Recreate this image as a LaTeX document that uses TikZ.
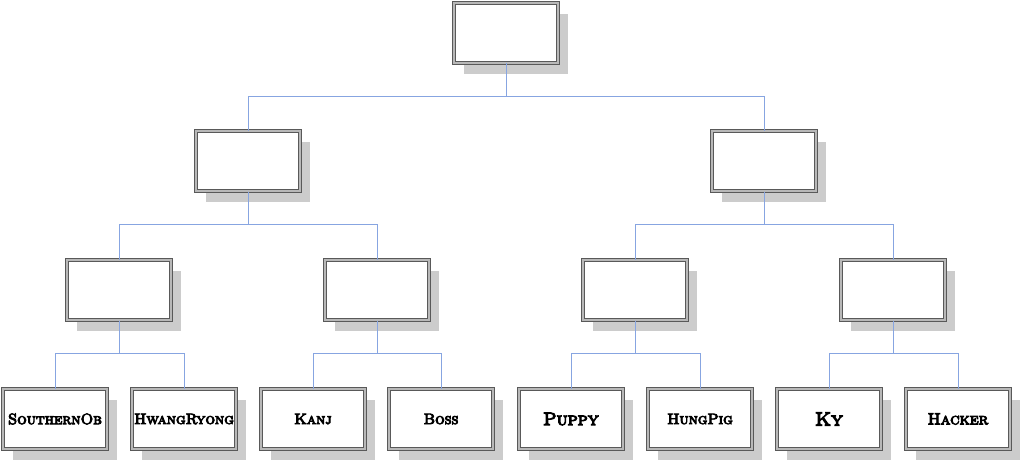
\documentclass[tikz,border=0pt]{standalone}
\usepackage{fontspec}
\usepackage{tikz}
\usetikzlibrary{positioning,calc,shadows}
\newfontfamily\brushfont[FakeBold=6]{lmromancaps10-regular.otf}
\definecolor{linkblue}{RGB}{135,165,225}

\begin{document}
\begin{tikzpicture}[
    x=1pt, y=-1pt,
    box/.style={rectangle, draw=black!65, double=black!28, double distance=1.2pt,
        line width=1pt, fill=white, minimum width=104pt, minimum height=60pt,
        inner sep=0pt, font=\brushfont\fontsize{15}{15}\selectfont,
        drop shadow={shadow xshift=10pt, shadow yshift=-11pt, fill=black!20, opacity=1}},
    link/.style={draw=linkblue, line width=1pt}
]
\useasboundingbox (0,0) rectangle (1023,460);

% levels
\node[box] (root) at (506,33) {};
\node[box] (west) at (248,161) {};
\node[box] (east) at (764,161) {};
\node[box] (w1) at (119,290) {};
\node[box] (w2) at (377,290) {};
\node[box] (e1) at (635,290) {};
\node[box] (e2) at (893,290) {};

% leaves
\node[box] (southern) at (55,419) {SouthernOb};
\node[box] (hwang) at (184,419) {HwangRyong};
\node[box] (kanj) at (313,419) {Kanj};
\node[box] (boss) at (441,419) {Boss};
\node[box, font=\brushfont\fontsize{18}{18}\selectfont] (puppy) at (571,419) {Puppy};
\node[box] (hungpig) at (700,419) {HungPig};
\node[box, font=\brushfont\fontsize{19}{19}\selectfont] (ky) at (829,419) {Ky};
\node[box, font=\brushfont\fontsize{16}{16}\selectfont] (hacker) at (958,419) {Hacker};

% connectors
\foreach \p/\a/\b in {root/west/east, west/w1/w2, east/e1/e2,
    w1/southern/hwang, w2/kanj/boss, e1/puppy/hungpig, e2/ky/hacker}{
  \draw[link] (\p.south) -- ++(0,33) -| (\a.north);
  \draw[link] (\p.south) -- ++(0,33) -| (\b.north);
}

\end{tikzpicture}
\end{document}
